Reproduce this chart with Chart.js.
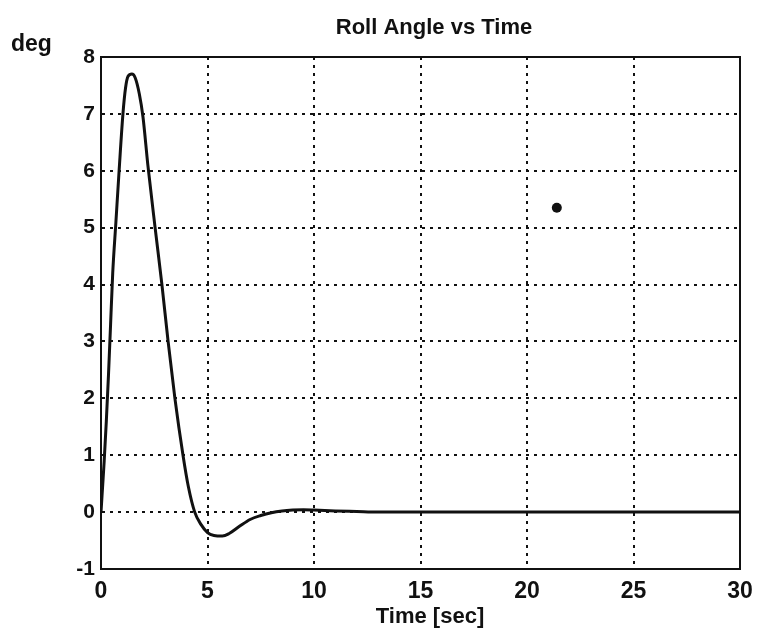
<!DOCTYPE html>
<html>
<head>
<meta charset="utf-8">
<script src="https://cdn.jsdelivr.net/npm/chart.js@4.4.1/dist/chart.umd.min.js"></script>
<style>
  html, body { margin: 0; padding: 0; background: #fff; }
  #wrap { position: relative; width: 758px; height: 633px; }
</style>
</head>
<body>
<div id="wrap"><canvas id="c" width="758" height="633"></canvas></div>
<script>
/* Roll angle step response */
var FONT = '"Liberation Sans", Arial, Helvetica, sans-serif';
var INK = '#111';

var timeSec = [0, 0.05, 0.15, 0.25, 0.35, 0.45, 0.55, 0.7, 0.85, 1.03, 1.15, 1.27, 1.45, 1.6, 1.8,
               1.97, 2.2, 2.54, 2.86, 3.15, 3.47, 3.85, 4.1, 4.4, 4.7, 5.0, 5.3, 5.7, 6.0, 6.5,
               7.0, 7.5, 8.0, 8.5, 9.0, 9.5, 10, 11, 12, 13, 30];
var rollDeg = [0, 0.3, 0.9, 1.6, 2.4, 3.3, 4.2, 5.1, 6.0, 7.0, 7.45, 7.66, 7.7, 7.64, 7.35,
               6.95, 6.1, 5.0, 4.0, 3.0, 2.0, 1.0, 0.45, 0.0, -0.22, -0.36, -0.41, -0.42, -0.38, -0.25,
               -0.13, -0.06, -0.01, 0.02, 0.035, 0.04, 0.035, 0.02, 0.01, 0, 0];
// stray ink blob on the scan
var specks = [{ x: 21.4, y: 5.35 }];

var xTicks = [0, 5, 10, 15, 20, 25, 30];
var yTicks = [8, 7, 6, 5, 4, 3, 2, 1, 0, -1];

var TITLE = 'Roll Angle vs Time';
var X_LABEL = 'Time [sec]';
var Y_LABEL = 'deg';

var points = timeSec.map(function (t, i) { return { x: t, y: rollDeg[i] }; });

/* box frame + free text (title, deg, x label) */
var frame = {
  id: 'frame',
  afterDraw: function (chart) {
    var a = chart.chartArea, ctx = chart.ctx;
    ctx.save();
    ctx.strokeStyle = INK;
    ctx.lineWidth = 2;
    ctx.strokeRect(a.left, a.top, a.right - a.left, a.bottom - a.top);
    ctx.fillStyle = INK;
    ctx.textBaseline = 'alphabetic';
    ctx.textAlign = 'center';
    ctx.font = 'bold 22px ' + FONT;
    ctx.fillText(TITLE, 434, 34);
    ctx.fillText(X_LABEL, 430, 623);
    ctx.textAlign = 'left';
    ctx.font = 'bold 23px ' + FONT;
    ctx.fillText(Y_LABEL, 11, 51);
    ctx.restore();
  }
};

function fixedTicks(list) {
  return function (scale) {
    scale.ticks = list.map(function (v) { return { value: v }; });
  };
}

new Chart(document.getElementById('c').getContext('2d'), {
  type: 'line',
  data: {
    datasets: [{
      data: points,
      borderColor: INK,
      borderWidth: 3,
      pointRadius: 0,
      cubicInterpolationMode: 'monotone',
      fill: false
    }, {
      type: 'scatter',
      data: specks,
      pointRadius: 5,
      pointBackgroundColor: INK,
      pointBorderWidth: 0
    }]
  },
  options: {
    responsive: false,
    animation: false,
    layout: { padding: { top: 57, right: 18, left: 0, bottom: 0 } },
    plugins: { legend: { display: false }, tooltip: { enabled: false }, title: { display: false } },
    scales: {
      x: {
        type: 'linear', min: 0, max: 30,
        afterBuildTicks: fixedTicks(xTicks),
        afterFit: function (s) { s.height = 64; s.paddingLeft = 0; s.paddingRight = 0; },
        grid: { color: INK, lineWidth: 2, drawTicks: false },
        border: { display: true, color: INK, width: 2, dash: [3, 5] },
        ticks: { color: INK, padding: 9, maxRotation: 0, font: { family: FONT, size: 23, weight: 'bold' } }
      },
      y: {
        type: 'linear', min: -1, max: 8,
        afterBuildTicks: fixedTicks(yTicks),
        afterFit: function (s) { s.width = 101; s.paddingTop = 0; s.paddingBottom = 0; },
        grid: { color: INK, lineWidth: 2, drawTicks: false },
        border: { display: true, color: INK, width: 2, dash: [3, 5] },
        ticks: { color: INK, padding: 6, font: { family: FONT, size: 21, weight: 'bold' } }
      }
    }
  },
  plugins: [frame]
});
</script>
</body>
</html>
